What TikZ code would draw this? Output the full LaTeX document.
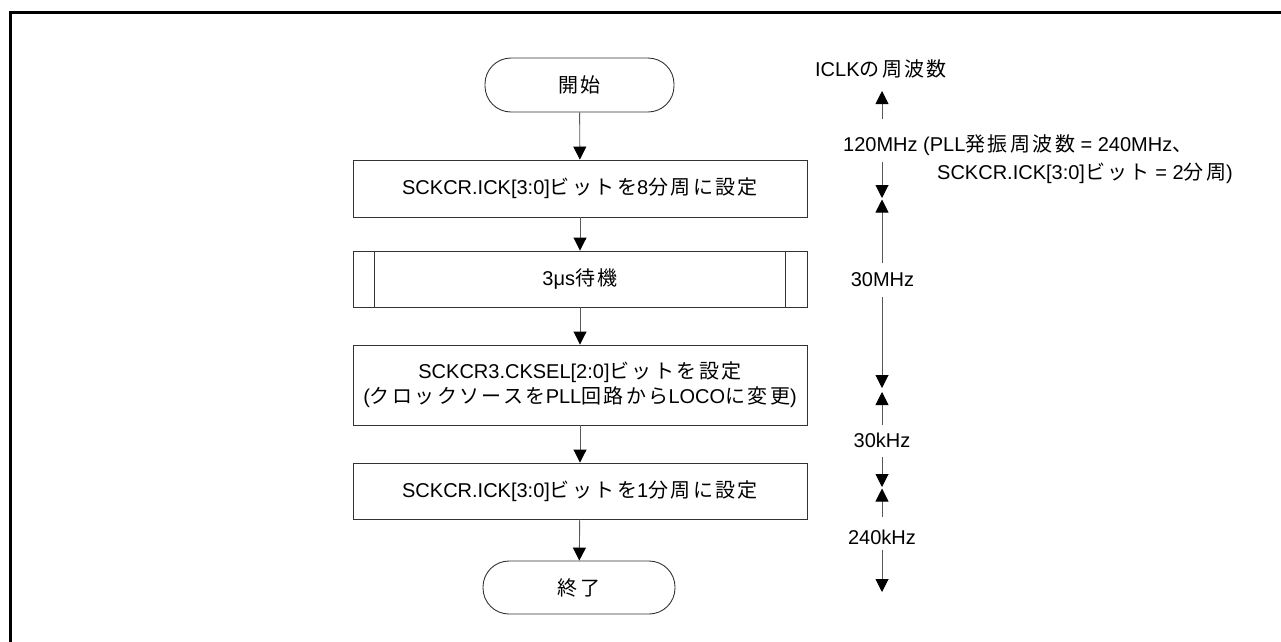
\documentclass[tikz,border=0pt]{standalone}
\usepackage{fontspec}
\setmainfont{Liberation Sans}
\newfontfamily\jp[LetterSpace=12]{Noto Sans CJK JP}
\usetikzlibrary{arrows.meta}
\begin{document}
\begin{tikzpicture}[x=1pt,y=-1pt,
  every node/.style={font=\fontsize{20}{25}\selectfont, text=black},
  term/.style={draw=black!80, line width=0.9pt, rounded corners=26pt, inner sep=0pt},
  procbox/.style={draw=black!80, line width=0.9pt, minimum width=454pt, inner sep=0pt, align=center},
  arr/.style={draw=black!65, line width=0.9pt, -{Triangle[length=13pt,width=13pt,black]}},
  lbl/.style={inner sep=0pt}
]
\useasboundingbox (0,0) rectangle (1281,641);
% frame (top and left only)
\draw[line width=2.6pt, line cap=rect] (10.5,641) -- (10.5,12.5) -- (1281,12.5);

% flow nodes
\node[term, minimum width=189pt, minimum height=54pt] (start) at (579.5,85) {{\jp 開始}};
\node[procbox, minimum height=57pt] (b1) at (580,188.5) {SCKCR.ICK[3:0]{\jp ビットを}8{\jp 分周に設定}};
\node[procbox, minimum height=56pt] (b2) at (580,279) {3μs{\jp 待機}};
\node[procbox, minimum height=80pt] (b3) at (580,385) {SCKCR3.CKSEL[2:0]{\jp ビットを設定}\\({\jp クロックソースを}PLL{\jp 回路から}LOCO{\jp に変更})};
\node[procbox, minimum height=56pt] (b4) at (580,491) {SCKCR.ICK[3:0]{\jp ビットを}1{\jp 分周に設定}};
\node[term, minimum width=192pt, minimum height=53pt] (end) at (579,587.5) {{\jp 終了}};

% predefined-process inner lines
\draw[draw=black!80, line width=0.9pt] ([xshift=22pt]b2.north west) -- ([xshift=22pt]b2.south west);
\draw[draw=black!80, line width=0.9pt] ([xshift=-22pt]b2.north east) -- ([xshift=-22pt]b2.south east);

% flow connectors
\draw[arr] (start) -- (b1);
\draw[arr] (b1) -- (b2);
\draw[arr] (b2) -- (b3);
\draw[arr] (b3) -- (b4);
\draw[arr] (b4) -- (end);

% frequency axis labels
\node[lbl] (iclk) at (881,69) {ICLK{\jp の周波数}};
\node[lbl, anchor=west] (f1a) at (843,145) {120MHz (PLL{\jp 発振周波数} = 240MHz{\jp 、}};
\node[lbl, anchor=west] (f1b) at (937,173) {SCKCR.ICK[3:0]{\jp ビット} = 2{\jp 分周})};
\node[lbl] (m30) at (882.5,280) {30MHz};
\node[lbl] (k30) at (882,440) {30kHz};
\node[lbl] (k240) at (882,537) {240kHz};

% axis coordinates
\coordinate (a1s) at (882,119); \coordinate (a1t) at (882,91);
\coordinate (a2s) at (882,162); \coordinate (a2t) at (882,198);
\coordinate (a3s) at (882,263); \coordinate (a3t) at (882,199.5);
\coordinate (a4s) at (882,297); \coordinate (a4t) at (882,388);
\coordinate (a5s) at (882,425); \coordinate (a5t) at (882,392);
\coordinate (a6s) at (882,457); \coordinate (a6t) at (882,487);
\coordinate (a7s) at (882,517); \coordinate (a7t) at (882,488.5);
\coordinate (a8s) at (882,550); \coordinate (a8t) at (882,592);

\draw[arr] (a1s) -- (a1t);
\draw[arr] (a2s) -- (a2t);
\draw[arr] (a3s) -- (a3t);
\draw[arr] (a4s) -- (a4t);
\draw[arr] (a5s) -- (a5t);
\draw[arr] (a6s) -- (a6t);
\draw[arr] (a7s) -- (a7t);
\draw[arr] (a8s) -- (a8t);
\end{tikzpicture}
\end{document}
